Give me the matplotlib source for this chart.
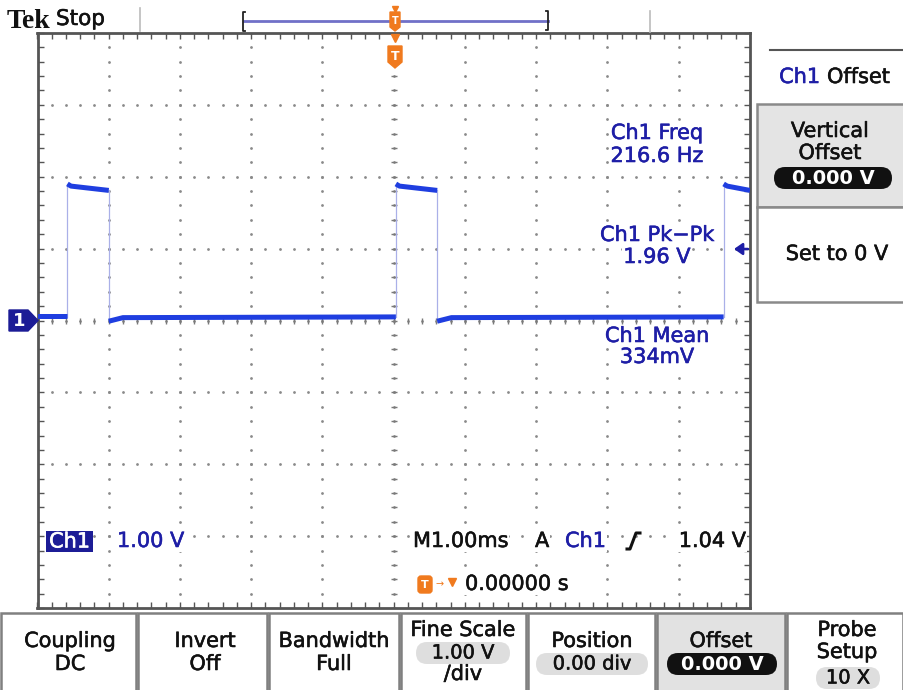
import matplotlib.pyplot as plt
import matplotlib.patheffects as pe
import numpy as np
from matplotlib.patches import Polygon, Rectangle, FancyBboxPatch

rise_t = [-4.58, 0.03, 4.63]
fall_t = [-4.00, 0.61]
high_v = [1.90, 1.87, 1.81]      # início, após 50 us, fim do pulso
low_v = [-0.01, 0.04, 0.05]      # logo após a descida, assentado, antes da subida
low_first_v = 0.06

meas_names = ['Ch1 Freq', 'Ch1 Pk\u2212Pk', 'Ch1 Mean']
meas_values = ['216.6 Hz', '1.96 V', '334mV']
btn_edges = [0, 137, 268, 400, 527, 656, 786, 904]

BLUE_TXT = '#1e1ea6'
TRACE = '#1f3ee0'
ORANGE = '#f07a1e'
FONT = 'DejaVu Sans'
FS = 15

fig = plt.figure(figsize=(9.04, 6.9), dpi=100)

# Area da tela com a grade (1 V/div, 1 ms/div)
sc = fig.add_axes([37.5 / 904, (690 - 608) / 690, 712.5 / 904, 575 / 690], zorder=1)
sc.set_xlim(-5, 5)
sc.set_ylim(-4, 4)
sc.set_xticks(np.arange(-5, 6, 1))
sc.set_yticks(np.arange(-4, 5, 1))
sc.set_xticks(np.arange(-5, 5.01, 0.2), minor=True)
sc.set_yticks(np.arange(-4, 4.01, 0.2), minor=True)
sc.tick_params(which='both', direction='in', top=True, right=True,
               labelbottom=False, labelleft=False, length=4, width=1, color='#555555')
for sp in sc.spines.values():
    sp.set_color('#555555')
    sp.set_linewidth(2)

fine_x = np.arange(-5, 5.01, 0.2)
fine_y = np.arange(-4, 4.01, 0.2)
for gy in range(-3, 4):
    sc.plot(fine_x, np.full_like(fine_x, gy), ls='none', marker='o', ms=2.0,
            mew=0, color='#8a8a8a', zorder=1)
for gx in range(-4, 5):
    sc.plot(np.full_like(fine_y, gx), fine_y, ls='none', marker='o', ms=2.0,
            mew=0, color='#8a8a8a', zorder=1)
# cruz central com marcas
sc.plot(np.zeros_like(fine_y), fine_y, ls='none', marker='_', ms=5,
        color='#7a7a7a', zorder=1)
sc.plot(fine_x, np.zeros_like(fine_x), ls='none', marker='|', ms=5,
        color='#7a7a7a', zorder=1)

# Forma de onda
for i, tr in enumerate(rise_t):
    tf = fall_t[i] if i < len(fall_t) else 5.0
    sc.plot([tr, tr + 0.05, tf], high_v, color=TRACE, lw=3.6,
            solid_capstyle='butt', zorder=3)
    if i == 0:
        sc.plot([-5.0, tr], [low_first_v, low_first_v], color=TRACE, lw=3.6,
                solid_capstyle='butt', zorder=3)
    sc.plot([tr, tr], [low_v[2], high_v[0]], color='#aab0e8', lw=0.9, zorder=2)
for i, tf in enumerate(fall_t):
    tn = rise_t[i + 1]
    sc.plot([tf, tf + 0.2, tn], low_v, color=TRACE, lw=3.6,
            solid_capstyle='butt', zorder=3)
    sc.plot([tf, tf], [low_v[0], high_v[2]], color='#aab0e8', lw=0.9, zorder=2)

# Camada da interface em pixels
ui = fig.add_axes([0, 0, 1, 1], zorder=2)
ui.set_xlim(0, 904)
ui.set_ylim(690, 0)
ui.axis('off')
ui.patch.set_alpha(0)

WHITE_BOX = dict(facecolor='white', edgecolor='none', pad=0.6)


def txt(x, y, s, color='#111111', ha='center', size=FS, box=False, **kw):
    t = ui.text(x, y, s, fontsize=size, family=FONT, color=color, ha=ha,
                va='center', bbox=WHITE_BOX if box else None, **kw)
    t.set_path_effects([pe.withStroke(linewidth=0.4, foreground=color)])
    return t


# Cabeçalho
ui.text(7, 21, 'Tek', fontsize=20, fontweight='bold', family='Liberation Serif',
        va='center', ha='left', color='#111111')
txt(56, 19, 'Stop', ha='left', size=15.5)
ui.plot([140, 140], [8, 31], color='#bbbbbb', lw=1.2)
ui.plot([650, 650], [11, 32], color='#bbbbbb', lw=1.2)
ui.plot([244, 548], [21, 21], color='#7070c8', lw=2)
ui.plot([245, 243, 243, 245], [12, 12, 31, 31], color='#222222', lw=1.3)
ui.plot([546, 548, 548, 546], [11, 11, 30, 30], color='#222222', lw=1.3)
ui.add_patch(Polygon([(390, 12), (400, 12), (400, 27), (395, 31), (390, 27)],
                     closed=True, color=ORANGE, zorder=5))
ui.plot([395], [9], marker='v', ms=5, color=ORANGE, zorder=5)
ui.text(395, 21, 'T', fontsize=7, color='white', fontweight='bold', ha='center',
        va='center', zorder=6)
ui.plot([395], [38], marker='v', ms=6, color=ORANGE, zorder=5)
ui.add_patch(Polygon([(388, 46), (402, 46), (402, 62), (395, 68), (388, 62)],
                     closed=True, color=ORANGE, zorder=5))
ui.text(395, 56, 'T', fontsize=9, color='white', fontweight='bold', ha='center',
        va='center', zorder=6)

# Marcador de terra do canal 1
ui.add_patch(Polygon([(9, 310), (28, 310), (38, 320.5), (28, 331), (9, 331)],
                     closed=True, color='#1c1c96', zorder=5))
ui.text(19, 321, '1', fontsize=13, color='white', fontweight='bold', ha='center',
        va='center', zorder=6)

# Medidas
meas_y = [(133, 156), (235, 257), (336, 357)]
for name, val, (y1, y2) in zip(meas_names, meas_values, meas_y):
    txt(657, y1, name, color=BLUE_TXT, box=True)
    txt(657, y2, val, color=BLUE_TXT, box=True)
ui.annotate('', xy=(734, 249), xytext=(748, 249),
            arrowprops=dict(arrowstyle='-|>,head_length=0.5,head_width=0.35',
                            color=BLUE_TXT, lw=1.8, shrinkA=0, shrinkB=0))

# Painel lateral
ui.plot([770, 904], [50, 50], color='#555555', lw=1.5)
txt(820, 77, 'Ch1', color=BLUE_TXT, ha='right')
txt(827, 77, 'Offset', ha='left')
ui.add_patch(Rectangle((757, 104), 150, 103, facecolor='#e4e4e4',
                       edgecolor='#8a8a8a', lw=1.8))
txt(830, 131, 'Vertical')
txt(830, 153, 'Offset')
ui.add_patch(FancyBboxPatch((774, 167), 118, 22, boxstyle='round,pad=0,rounding_size=11',
                            facecolor='#111111', edgecolor='none'))
ui.text(833, 178, '0.000 V', fontsize=14, family=FONT, ha='center', va='center',
        color='white', fontweight='bold')
ui.add_patch(Rectangle((757, 207), 150, 95, facecolor='white',
                       edgecolor='#8a8a8a', lw=1.8))
txt(837, 254, 'Set to 0 V')

# Informações inferiores
ui.add_patch(Rectangle((46, 531), 47, 21, facecolor='#1c1c96', edgecolor='none'))
txt(69.5, 541.5, 'Ch1', color='white')
txt(117, 541, '1.00 V', color=BLUE_TXT, ha='left', box=True)
txt(413, 541, 'M1.00ms', ha='left', box=True)
txt(535, 541, 'A', ha='left', box=True)
txt(565, 541, 'Ch1', color=BLUE_TXT, ha='left', box=True)
ui.plot([627, 630, 633, 636, 640], [549, 549, 541, 533, 533], color='#111111', lw=2.2)
txt(746, 541, '1.04 V', ha='right', box=True)
ui.add_patch(FancyBboxPatch((418, 576), 14, 17, boxstyle='round,pad=0,rounding_size=3',
                            color=ORANGE))
ui.text(425, 585, 'T', fontsize=8, color='white', fontweight='bold', ha='center', va='center')
ui.text(440, 584, '\u2192', fontsize=7, color=ORANGE, ha='center', va='center')
ui.plot([452], [582], marker='v', ms=6, color=ORANGE)
txt(465, 584, '0.00000 s', ha='left', box=True)

# Botões inferiores
for i in range(len(btn_edges) - 1):
    x0, x1 = btn_edges[i], btn_edges[i + 1]
    fc = '#e2e2e2' if i == 5 else 'white'
    ui.add_patch(Rectangle((x0 + 1, 613), x1 - x0 - 2, 80, facecolor=fc,
                           edgecolor='#808080', lw=1.8))


def pill(xc, yc, w, s, dark=False):
    ui.add_patch(FancyBboxPatch((xc - w / 2, yc - 11), w, 22,
                                boxstyle='round,pad=0,rounding_size=11',
                                facecolor='#111111' if dark else '#dedede',
                                edgecolor='none'))
    if dark:
        ui.text(xc, yc, s, fontsize=14, family=FONT, ha='center', va='center',
                color='white', fontweight='bold')
    else:
        txt(xc, yc, s, size=14)


txt(70, 641, 'Coupling'); txt(70, 664, 'DC')
txt(205, 641, 'Invert'); txt(205, 664, 'Off')
txt(334, 641, 'Bandwidth'); txt(334, 664, 'Full')
txt(463, 630, 'Fine Scale'); pill(463, 653, 94, '1.00 V'); txt(463, 674, '/div')
txt(592, 641, 'Position'); pill(592, 664, 112, '0.00 div')
txt(721, 641, 'Offset'); pill(722, 664, 110, '0.000 V', dark=True)
txt(847, 630, 'Probe'); txt(847, 652, 'Setup'); pill(848, 678, 64, '10 X')

plt.savefig('out.png', dpi=100)
